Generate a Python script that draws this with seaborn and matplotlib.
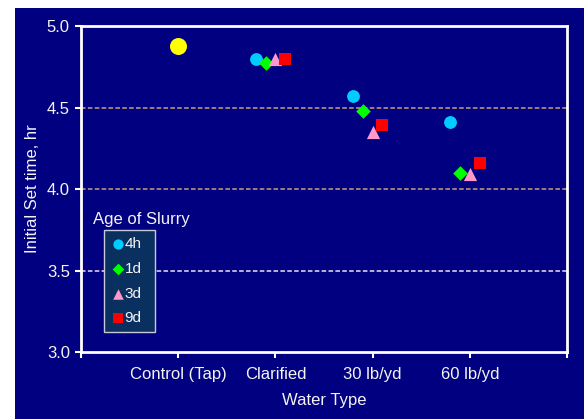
import matplotlib
matplotlib.use("Agg")
import matplotlib.pyplot as plt
from matplotlib.patches import Rectangle
import seaborn as sns
import pandas as pd

# Water types along the x axis
categories = ["Control (Tap)", "Clarified", "30 lb/yd", "60 lb/yd"]

# Control (tap water) reference value
control_value = 4.875

# Initial set time (hr) by slurry age for the treated water types
ages = ["4h", "1d", "3d", "9d"]
set_4h = [4.80, 4.57, 4.41]
set_1d = [4.77, 4.48, 4.10]
set_3d = [4.80, 4.35, 4.09]
set_9d = [4.80, 4.39, 4.16]

y_ticks = [3.0, 3.5, 4.0, 4.5, 5.0]

series = {"4h": set_4h, "1d": set_1d, "3d": set_3d, "9d": set_9d}
offsets = {"4h": -0.2, "1d": -0.1, "3d": 0.0, "9d": 0.1}
colors = {"4h": "#00CCFF", "1d": "#00FF00", "3d": "#FF99CC", "9d": "#FF0000"}
markers = {"4h": "o", "1d": "D", "3d": "^", "9d": "s"}
msizes = {"4h": 85, "1d": 55, "3d": 90, "9d": 85}

rows = []
for age in ages:
    for i, v in enumerate(series[age]):
        rows.append({"x": i + 2 + offsets[age], "y": v, "age": age})
df = pd.DataFrame(rows)
ctrl = pd.DataFrame({"x": [1], "y": [control_value]})

sns.set_theme(style="white")
plt.rcParams["font.family"] = ["Liberation Sans", "DejaVu Sans"]

NAVY = "#000080"
TXT = "#F4F4F4"
FS = 12

fig = plt.figure(figsize=(5.87, 4.19), dpi=100, facecolor="white")
fig.patches.append(Rectangle((15 / 587, 0), (584 - 15) / 587, 1 - 8 / 419,
                             transform=fig.transFigure, facecolor=NAVY,
                             edgecolor="none", zorder=-10))
ax = fig.add_axes([81 / 587, 1 - 352 / 419, (567 - 81) / 587, (352 - 26) / 419])
ax.set_facecolor(NAVY)

# dashed reference lines
for yv, col in [(4.5, "#C8A07A"), (4.0, "#C8A07A"), (3.5, "#EEE0EE")]:
    ax.axhline(yv, color=col, lw=1.1, ls=(0, (3, 1.5)), zorder=1)

sns.scatterplot(data=ctrl, x="x", y="y", ax=ax, color="#FFFF00", marker="o",
                s=150, linewidth=0, zorder=3, legend=False)

for age in ages:
    sub = df[df["age"] == age]
    sns.scatterplot(data=sub, x="x", y="y", ax=ax, color=colors[age],
                    marker=markers[age], s=msizes[age], linewidth=0,
                    zorder=3, label=age)

ax.set_xlim(0, 5)
ax.set_ylim(3.0, 5.0)
ax.set_xticks(range(6))
ax.set_xticklabels([""] + categories + [""])
ax.set_yticks(y_ticks)
ax.set_yticklabels([f"{t:.1f}" for t in y_ticks])

for sp in ax.spines.values():
    sp.set_color("white")
    sp.set_linewidth(2.0)
ax.tick_params(axis="both", colors="white", length=4, width=1.5,
               direction="out", labelcolor=TXT, labelsize=FS)
ax.tick_params(axis="x", pad=7)
ax.tick_params(axis="y", pad=4)
ax.tick_params(axis="both", bottom=True, left=True)

ax.set_xlabel("Water Type", color=TXT, fontsize=FS, labelpad=8)
ax.set_ylabel("Initial Set time, hr", color=TXT, fontsize=FS, labelpad=5)

leg = ax.legend(loc="lower left", bbox_to_anchor=(0.047, 0.061, 0.105, 0.307),
                mode="expand", frameon=True, fontsize=11, labelspacing=0.7,
                handletextpad=0.0, handlelength=0.9, borderpad=0.45,
                borderaxespad=0, fancybox=False, markerscale=0.8)
leg.get_frame().set_facecolor("#0A3060")
leg.get_frame().set_edgecolor("#C8C8D8")
leg.get_frame().set_linewidth(1.0)
leg.get_frame().set_alpha(1)
for t in leg.get_texts():
    t.set_color(TXT)
leg.set_zorder(5)

fig.text(141 / 587, 1 - 219 / 419, "Age of Slurry", color=TXT, fontsize=FS,
         ha="center", va="center")

fig.savefig("out.png", dpi=100, facecolor="white")
